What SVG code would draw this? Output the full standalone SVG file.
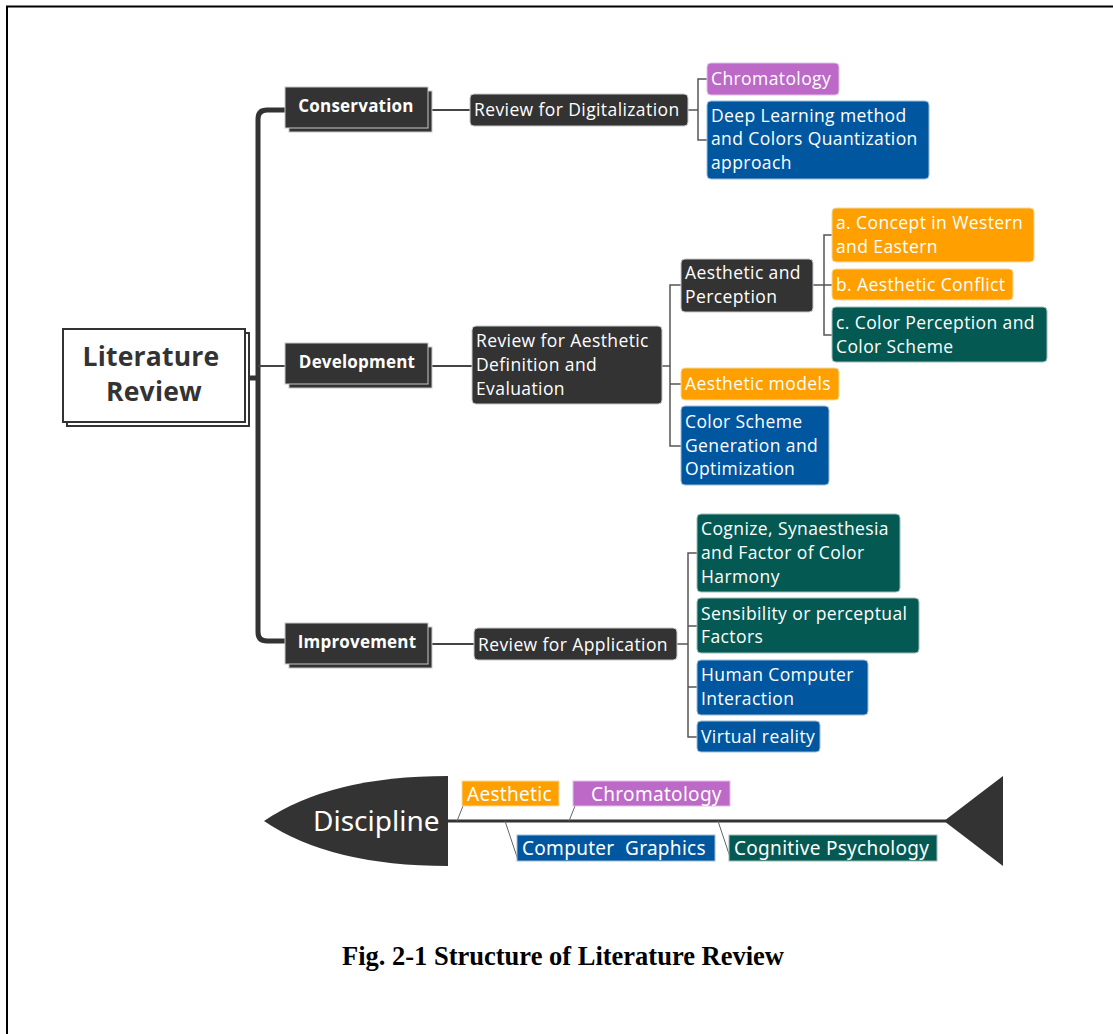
<svg xmlns="http://www.w3.org/2000/svg" width="1113" height="1034" viewBox="0 0 1113 1034">
<style>
.mm{font-family:"Open Sans","Noto Sans","DejaVu Sans",sans-serif;fill:#fff;font-size:17.5px;letter-spacing:0.4px}
.b{font-weight:bold;letter-spacing:0.2px}
.dark{fill:#333;stroke:#c8c8c8;stroke-width:1}
.or{fill:#ffa000;stroke:#f0d9a0;stroke-width:1}
.pu{fill:#bc69c8;stroke:#e0c0e6;stroke-width:1}
.bl{fill:#00579f;stroke:#9fbcd8;stroke-width:1}
.te{fill:#045a53;stroke:#9dbcb8;stroke-width:1}
.ln{fill:none;stroke:#444;stroke-width:2}
.thin{fill:none;stroke:#555;stroke-width:1.5}
.dl{font-family:"Noto Sans","Open Sans",sans-serif;fill:#fff;font-size:19px;letter-spacing:0.3px}
</style>
<rect x="0" y="0" width="1113" height="1034" fill="#fff"/>
<path d="M7,1034 V6.5 H1113" fill="none" stroke="#000" stroke-width="2"/>

<g id="connectors">
<path d="M248,378 H258" stroke="#333" stroke-width="5" fill="none"/>
<path d="M286,110 H267 Q258,110 258,119 V632 Q258,641 267,641 H286" fill="none" stroke="#333" stroke-width="5"/>
<path d="M258,366 H286" class="ln"/>
<path d="M432,110 H470" class="ln"/>
<path d="M432,366 H473" class="ln"/>
<path d="M432,644 H475" class="ln"/>
<path d="M688,110 H698 M707,79 H698 V140 H707" class="thin"/>
<path d="M662,366 H670 M681,285 H670 V446 H681 M670,384 H681" class="thin"/>
<path d="M813,285 H832 M832,235 H824 V335 H832" class="thin"/>
<path d="M677,644 H688 M697,553 H688 V737 H697 M688,626 H697 M688,687 H697" class="thin"/>
</g>

<g id="root">
<rect x="67" y="333" width="182" height="93" fill="#fff" stroke="#333" stroke-width="2"/>
<rect x="63" y="329" width="182" height="93" fill="#fff" stroke="#333" stroke-width="2"/>
<text class="mm b" x="151" y="366" text-anchor="middle" style="fill:#333;font-size:26.5px">Literature</text>
<text class="mm b" x="154" y="401" text-anchor="middle" style="fill:#333;font-size:26.5px">Review</text>
</g>

<g id="conservation">
<rect x="289" y="91" width="143" height="41" class="dark"/>
<rect x="285" y="87" width="143" height="41" class="dark"/>
<text class="mm b" x="356" y="112" text-anchor="middle" style="font-size:17px">Conservation</text>
</g>
<g id="development">
<rect x="289" y="347" width="143" height="41" class="dark"/>
<rect x="285" y="343" width="143" height="41" class="dark"/>
<text class="mm b" x="357" y="368" text-anchor="middle" style="font-size:17px">Development</text>
</g>
<g id="improvement">
<rect x="289" y="627" width="143" height="41" class="dark"/>
<rect x="285" y="623" width="143" height="41" class="dark"/>
<text class="mm b" x="357" y="648" text-anchor="middle" style="font-size:17px">Improvement</text>
</g>

<g id="review-digital">
<rect x="470" y="94" width="218" height="32" rx="4" class="dark"/>
<text class="mm" x="474" y="116">Review for Digitalization</text>
</g>
<g id="chromatology">
<rect x="707" y="63" width="132" height="32" rx="4" class="pu"/>
<text class="mm" x="711" y="85">Chromatology</text>
</g>
<g id="deep-learning">
<rect x="707" y="101" width="222" height="78" rx="4" class="bl"/>
<text class="mm" x="711" y="122">Deep Learning method</text>
<text class="mm" x="711" y="145">and Colors Quantization</text>
<text class="mm" x="711" y="169">approach</text>
</g>

<g id="review-aesthetic">
<rect x="472" y="326" width="190" height="78" rx="4" class="dark"/>
<text class="mm" x="476" y="347">Review for Aesthetic</text>
<text class="mm" x="476" y="371">Definition and</text>
<text class="mm" x="476" y="395">Evaluation</text>
</g>
<g id="aesthetic-perception">
<rect x="681" y="259" width="132" height="53" rx="4" class="dark"/>
<text class="mm" x="685" y="279">Aesthetic and</text>
<text class="mm" x="685" y="303">Perception</text>
</g>
<g id="concept">
<rect x="832" y="208" width="202" height="54" rx="4" class="or"/>
<text class="mm" x="836" y="229">a. Concept in Western</text>
<text class="mm" x="836" y="253">and Eastern</text>
</g>
<g id="conflict">
<rect x="832" y="269" width="181" height="31" rx="4" class="or"/>
<text class="mm" x="836" y="291">b. Aesthetic Conflict</text>
</g>
<g id="color-perception">
<rect x="832" y="307" width="215" height="55" rx="4" class="te"/>
<text class="mm" x="836" y="329">c. Color Perception and</text>
<text class="mm" x="836" y="353">Color Scheme</text>
</g>
<g id="aesthetic-models">
<rect x="681" y="368" width="158" height="32" rx="4" class="or"/>
<text class="mm" x="685" y="390">Aesthetic models</text>
</g>
<g id="color-scheme-gen">
<rect x="681" y="406" width="148" height="79" rx="4" class="bl"/>
<text class="mm" x="685" y="428">Color Scheme</text>
<text class="mm" x="685" y="452">Generation and</text>
<text class="mm" x="685" y="475">Optimization</text>
</g>

<g id="review-application">
<rect x="474" y="628" width="203" height="32" rx="4" class="dark"/>
<text class="mm" x="478" y="651">Review for Application</text>
</g>
<g id="cognize">
<rect x="697" y="514" width="203" height="78" rx="4" class="te"/>
<text class="mm" x="701" y="535">Cognize, Synaesthesia</text>
<text class="mm" x="701" y="559">and Factor of Color</text>
<text class="mm" x="701" y="583">Harmony</text>
</g>
<g id="sensibility">
<rect x="697" y="598" width="222" height="55" rx="4" class="te"/>
<text class="mm" x="701" y="620">Sensibility or perceptual</text>
<text class="mm" x="701" y="643">Factors</text>
</g>
<g id="hci">
<rect x="697" y="660" width="171" height="55" rx="4" class="bl"/>
<text class="mm" x="701" y="681">Human Computer</text>
<text class="mm" x="701" y="705">Interaction</text>
</g>
<g id="vr">
<rect x="697" y="721" width="123" height="31" rx="4" class="bl"/>
<text class="mm" x="701" y="743">Virtual reality</text>
</g>

<g id="discipline">
<path d="M448,776 V866 Q330,866 264,821 Q330,776 448,776 Z" fill="#333"/>
<text class="dl" x="313" y="831" style="font-size:28px;letter-spacing:0">Discipline</text>
<path d="M448,821 H946" stroke="#333" stroke-width="3" fill="none"/>
<path d="M944,821 L1003,776 V866 Z" fill="#333"/>
<path d="M457,821 L463,806 M569,821 L575,806 M505,821 L518,860 M718,821 L731,860" class="thin" style="stroke:#666;stroke-width:1"/>
</g>
<g id="aesthetic">
<rect x="462" y="781" width="97" height="25" fill="#ffa000" stroke="#f3d9a0"/>
<text class="dl" x="467" y="801">Aesthetic</text>
</g>
<g id="chromatology-d">
<rect x="573" y="781" width="157" height="25" fill="#bc69c8" stroke="#e0c0e6"/>
<text class="dl" x="591" y="801">Chromatology</text>
</g>
<g id="computer-graphics">
<rect x="517" y="835" width="198" height="26" fill="#00579f" stroke="#9fbcd8"/>
<text class="dl" x="522" y="855" xml:space="preserve">Computer  Graphics</text>
</g>
<g id="cognitive-psychology">
<rect x="729" y="835" width="208" height="26" fill="#045a53" stroke="#9dbcb8"/>
<text class="dl" x="734" y="855">Cognitive Psychology</text>
</g>

<text x="563" y="965" text-anchor="middle" font-family="'Liberation Serif',serif" font-weight="bold" font-size="26.5" fill="#000">Fig. 2-1 Structure of Literature Review</text>
</svg>
